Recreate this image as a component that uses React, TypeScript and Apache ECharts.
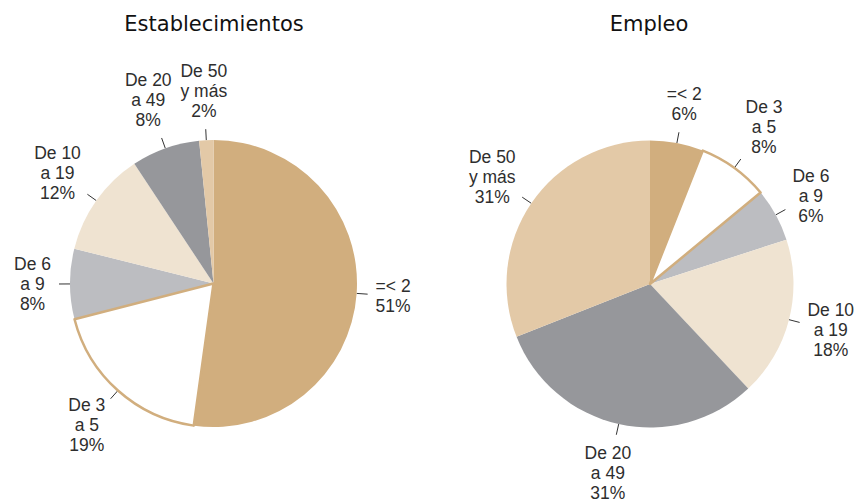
import React, { useEffect, useRef } from "react";
import * as echarts from "echarts";

// Categories (clockwise from 12 o'clock)
const categories = ["=< 2", "De 3\na 5", "De 6\na 9", "De 10\na 19", "De 20\na 49", "De 50\ny más"];

// Establecimientos: printed percentages and slice shares
const estLabels = [51, 19, 8, 12, 8, 2];
const estShares = [52.2, 18.8, 7.9, 11.8, 7.7, 1.6];

// Empleo: printed percentages (slices match them)
const empLabels = [6, 8, 6, 18, 31, 31];
const empShares = [6, 8, 6, 18, 31, 31];

const titles = ["Establecimientos", "Empleo"];

const colors = ["#D1AE7E", "#FFFFFF", "#BCBDC1", "#EFE3D1", "#96979B", "#E3C9A7"];
const BORDER_TAN = "#D1AE7E";
const TITLE_FONT = "DejaVu Sans";
const LABEL_FONT = "Liberation Sans";

function labelLayoutFn(params: any) {
  const pts = params.labelLinePoints;
  const rect = params.labelRect;
  if (!pts || !rect) return {};
  const p0 = pts[0];
  const p1 = pts[1];
  let dx = p1[0] - p0[0];
  let dy = p1[1] - p0[1];
  const L = Math.hypot(dx, dy) || 1;
  dx /= L;
  dy /= L;
  const w = rect.width / 2;
  const h = rect.height / 2;
  const tx = Math.abs(dx) > 1e-6 ? w / Math.abs(dx) : Infinity;
  const ty = Math.abs(dy) > 1e-6 ? h / Math.abs(dy) : Infinity;
  const t = Math.min(tx, ty) + 8;
  return {
    x: p1[0] + dx * t,
    y: p1[1] + dy * t,
    align: "center",
    verticalAlign: "middle",
    labelLinePoints: [p0, p1, p1],
  };
}

function makePie(shares: number[], printed: number[], center: [number, number]) {
  return {
    type: "pie",
    center,
    radius: 143.5,
    startAngle: 90,
    clockwise: true,
    avoidLabelOverlap: false,
    silent: true,
    emphasis: { disabled: true },
    itemStyle: { borderWidth: 0 },
    label: {
      show: true,
      position: "outside",
      alignTo: "none",
      bleedMargin: 0,
      overflow: "none",
      fontFamily: LABEL_FONT,
      fontSize: 17.5,
      lineHeight: 20,
      color: "#2e2e2e",
      align: "center",
      formatter: (p: any) => `${p.name}\n${printed[p.dataIndex]}%`,
    },
    labelLine: {
      show: true,
      length: 11,
      length2: 0,
      smooth: false,
      lineStyle: { color: "#333333", width: 1 },
    },
    labelLayout: labelLayoutFn,
    data: shares.map((v, i) => ({
      name: categories[i],
      value: v,
      itemStyle: { color: colors[i] },
    })),
    z: 2,
  };
}

function makeBorderOverlay(shares: number[], center: [number, number]) {
  return {
    type: "pie",
    center,
    radius: 143.5,
    startAngle: 90,
    clockwise: true,
    silent: true,
    emphasis: { disabled: true },
    label: { show: false },
    labelLine: { show: false },
    data: shares.map((v, i) => ({
      name: categories[i],
      value: v,
      itemStyle:
        i === 1
          ? { color: "rgba(0,0,0,0)", borderColor: BORDER_TAN, borderWidth: 2.5 }
          : { color: "rgba(0,0,0,0)", borderWidth: 0 },
    })),
    z: 3,
  };
}

export default function App() {
  const ref = useRef<HTMLDivElement>(null);
  useEffect(() => {
    if (!ref.current) return;
    const chart = echarts.init(ref.current, undefined, { renderer: "svg" });
    const leftC: [number, number] = [213.5, 283.5];
    const rightC: [number, number] = [650, 284];
    chart.setOption({
      animation: false,
      backgroundColor: "#FFFFFF",
      title: [
        {
          text: titles[0],
          left: 214,
          top: 13,
          padding: 0,
          textAlign: "center",
          textStyle: { fontFamily: TITLE_FONT, fontSize: 21, fontWeight: "normal", color: "#111111" },
        },
        {
          text: titles[1],
          left: 649,
          top: 13,
          padding: 0,
          textAlign: "center",
          textStyle: { fontFamily: TITLE_FONT, fontSize: 21, fontWeight: "normal", color: "#111111" },
        },
      ],
      series: [
        makePie(estShares, estLabels, leftC),
        makeBorderOverlay(estShares, leftC),
        makePie(empShares, empLabels, rightC),
        makeBorderOverlay(empShares, rightC),
      ],
    });
    return () => chart.dispose();
  }, []);
  return (
    <div
      ref={ref}
      style={{ position: "absolute", left: 0, top: 0, width: 857, height: 501, background: "#fff" }}
    />
  );
}
